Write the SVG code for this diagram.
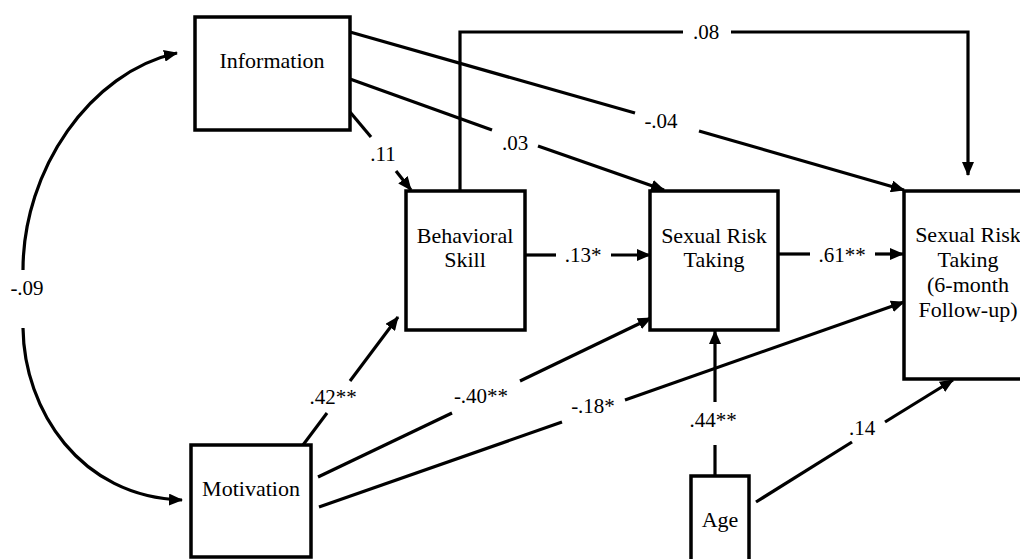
<svg xmlns="http://www.w3.org/2000/svg" width="1020" height="559" viewBox="0 0 1020 559">
<defs>
<marker id="ah" markerUnits="userSpaceOnUse" markerWidth="14" markerHeight="12" viewBox="0 0 14 12" refX="13" refY="6" orient="auto-start-reverse">
<path d="M0,0 L14,6 L0,12 z" fill="#000"/>
</marker>
<style>
.box{fill:#fff;stroke:#000;stroke-width:3.5}
text{font-family:'Liberation Serif','DejaVu Serif',serif;text-anchor:middle;fill:#000}
.nt{font-size:22px}
.lb{font-size:21px}
.ln{fill:none;stroke:#000;stroke-width:3.2}
.ar{marker-end:url(#ah)}
</style>
</defs>
<rect width="1020" height="559" fill="#fff"/>
<g id="connectors">
<path class="ln" d="M177,53 C90,72 23,170 23,270" marker-start="url(#ah)"/>
<path class="ln ar" d="M23,328 C24,410 80,497 182,500"/>
<line class="ln" x1="350" y1="112" x2="371" y2="137"/>
<line class="ln ar" x1="396" y1="171" x2="411" y2="190"/>
<line class="ln" x1="350" y1="79" x2="492" y2="130"/>
<line class="ln ar" x1="538" y1="146" x2="664" y2="190"/>
<line class="ln" x1="350" y1="32" x2="635" y2="113"/>
<line class="ln ar" x1="699" y1="131" x2="904" y2="190"/>
<polyline class="ln" points="460,191 460,32 683,32"/>
<polyline class="ln ar" points="731,32 968,32 968,175"/>
<line class="ln" x1="525" y1="255" x2="556" y2="255"/>
<line class="ln ar" x1="611" y1="255" x2="650" y2="255"/>
<line class="ln" x1="778" y1="254" x2="810" y2="254"/>
<line class="ln ar" x1="875" y1="254" x2="903" y2="254"/>
<line class="ln" x1="303" y1="445" x2="327" y2="413"/>
<line class="ln ar" x1="350" y1="381" x2="398" y2="317"/>
<line class="ln" x1="318" y1="477" x2="452" y2="413"/>
<line class="ln ar" x1="520" y1="381" x2="651" y2="318"/>
<line class="ln" x1="319" y1="507" x2="562" y2="422"/>
<line class="ln ar" x1="625" y1="400" x2="904" y2="302"/>
<line class="ln" x1="715" y1="476" x2="715" y2="445"/>
<line class="ln ar" x1="715" y1="402" x2="715" y2="331"/>
<line class="ln" x1="756" y1="502" x2="852" y2="442"/>
<line class="ln ar" x1="885" y1="422" x2="953" y2="380"/>
<text class="lb" x="27" y="295" font-family="Liberation Serif">-.09</text>
<text class="lb" x="383" y="161" font-family="Liberation Serif">.11</text>
<text class="lb" x="515" y="150" font-family="Liberation Serif">.03</text>
<text class="lb" x="661" y="128" font-family="Liberation Serif">-.04</text>
<text class="lb" x="706" y="39" font-family="Liberation Serif">.08</text>
<text class="lb" x="583" y="262" font-family="Liberation Serif">.13*</text>
<text class="lb" x="842" y="262" font-family="Liberation Serif">.61**</text>
<text class="lb" x="333" y="404" font-family="Liberation Serif">.42**</text>
<text class="lb" x="481" y="403" font-family="Liberation Serif">-.40**</text>
<text class="lb" x="593" y="413" font-family="Liberation Serif">-.18*</text>
<text class="lb" x="713" y="427" font-family="Liberation Serif">.44**</text>
<text class="lb" x="862" y="435" font-family="Liberation Serif">.14</text>
</g>
<g id="information">
<rect class="box" x="195" y="17" width="155" height="113"/>
<text class="nt" x="272" y="68">Information</text>
</g>
<g id="behavioral-skill">
<rect class="box" x="406" y="191" width="119" height="139"/>
<text class="nt" x="465" y="243">Behavioral</text>
<text class="nt" x="465" y="267">Skill</text>
</g>
<g id="sexual-risk-taking">
<rect class="box" x="650" y="191" width="128" height="139"/>
<text class="nt" x="714" y="243">Sexual Risk</text>
<text class="nt" x="714" y="267">Taking</text>
</g>
<g id="sexual-risk-followup">
<rect class="box" x="904" y="191" width="130" height="188"/>
<text class="nt" x="968" y="242">Sexual Risk</text>
<text class="nt" x="968" y="267">Taking</text>
<text class="nt" x="968" y="292">(6-month</text>
<text class="nt" x="968" y="317">Follow-up)</text>
</g>
<g id="motivation">
<rect class="box" x="191" y="445" width="120" height="112"/>
<text class="nt" x="251" y="496">Motivation</text>
</g>
<g id="age">
<rect class="box" x="691" y="476" width="58" height="90"/>
<text class="nt" x="720" y="527">Age</text>
</g>
</svg>
